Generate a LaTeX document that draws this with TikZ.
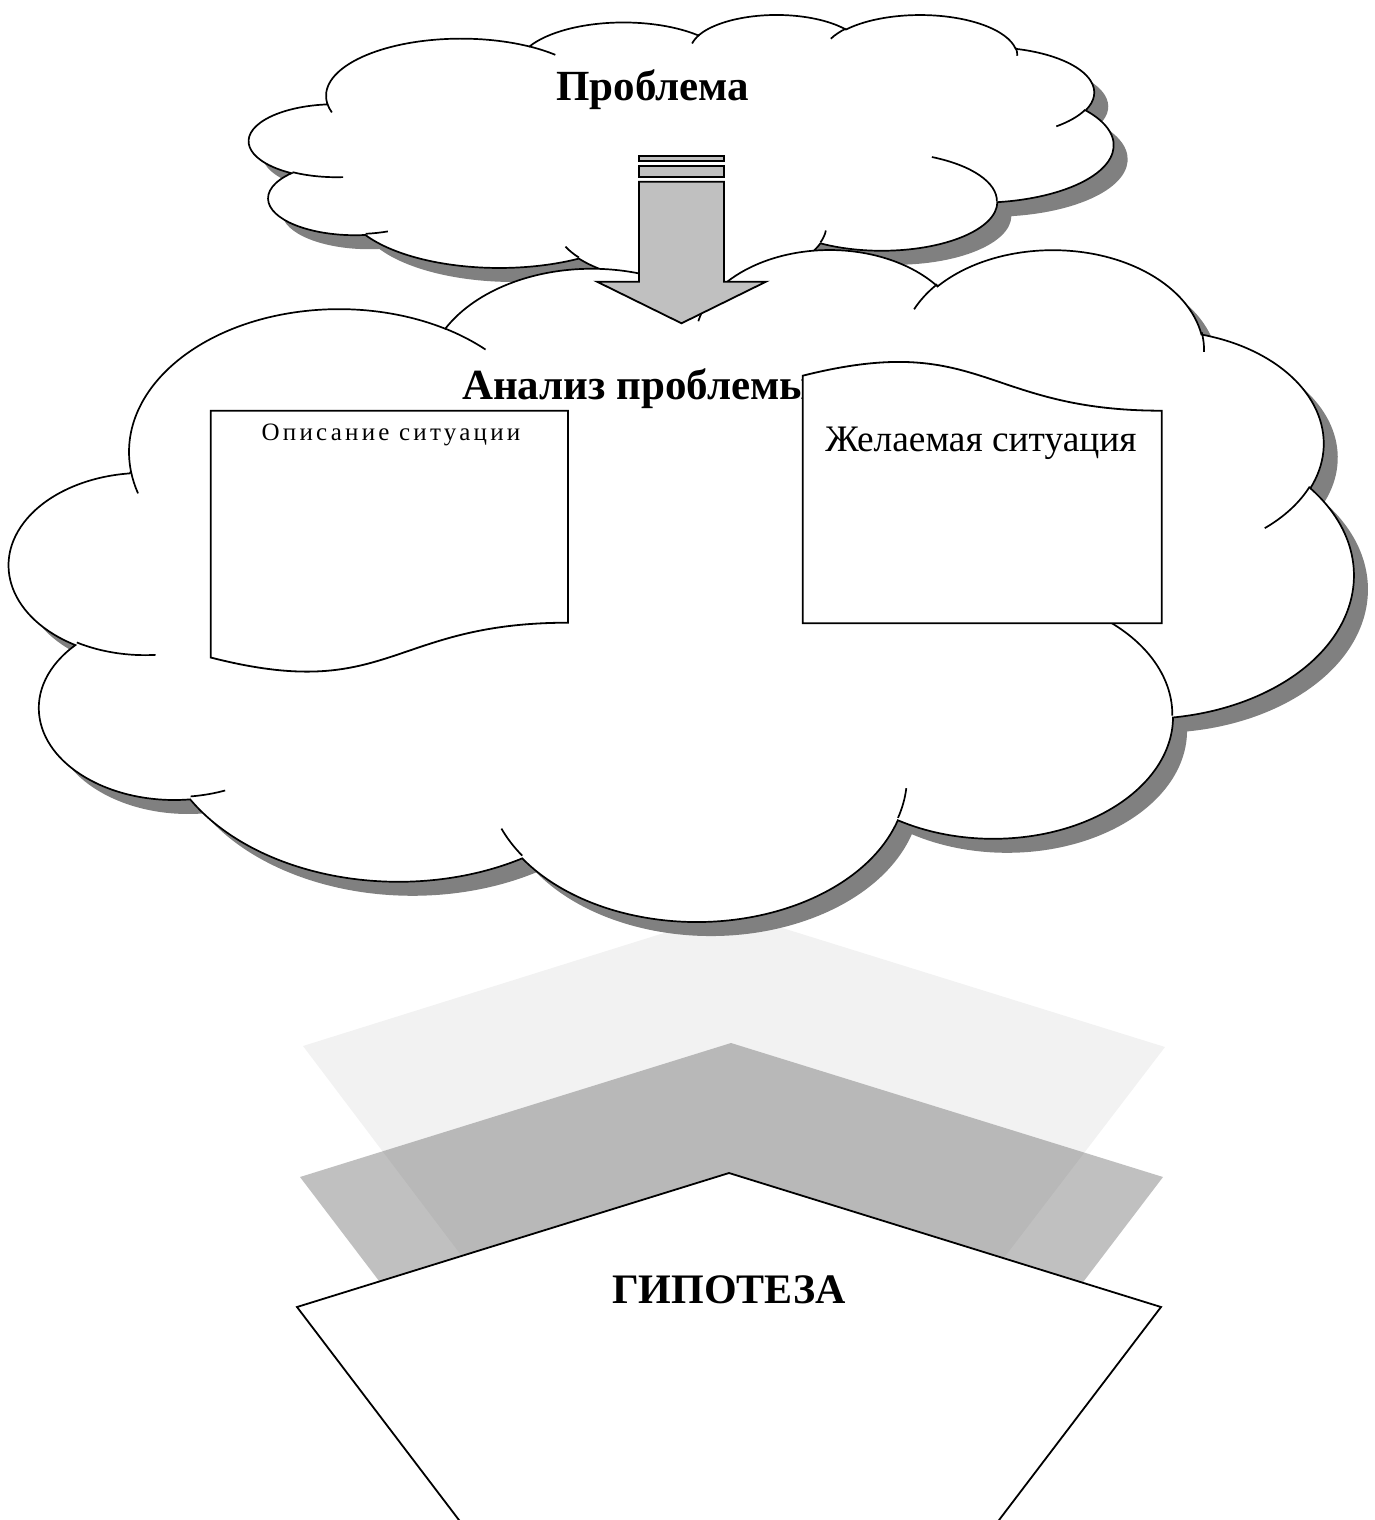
\documentclass[tikz,border=0pt]{standalone}
\usepackage{fontspec}
\setmainfont{Liberation Serif}
\newfontfamily\spacedserif[LetterSpace=13]{Liberation Serif}
\definecolor{cloudshadow}{HTML}{808080}
\definecolor{arrowfill}{HTML}{C0C0C0}
\definecolor{lightchev}{HTML}{F2F2F2}

% ---------- cloud (DrawingML preset geometry, 43200 units given in thousands) ----------
\newcommand\cldsetup[4]{%
  \pgfmathsetmacro\cldXo{#1}\pgfmathsetmacro\cldYo{#2}%
  \pgfmathsetmacro\cldSx{(#3)/43.2}\pgfmathsetmacro\cldSy{(#4)/43.2}}
\newcommand\cldpt[2]{\pgfpoint{(\cldXo+(#1)*\cldSx)*0.5pt}{-(\cldYo+(#2)*\cldSy)*0.5pt}}
\newcommand\cldarc[4]{%
  \pgfmathsetmacro\cldA{atan2((#1)*sin(-(#3)),(#2)*cos(-(#3)))}%
  \pgfmathsetmacro\cldB{atan2((#1)*sin(-(#3)-(#4)),(#2)*cos(-(#3)-(#4)))}%
  \pgfmathsetmacro\cldD{\cldB-\cldA}%
  \pgfmathsetmacro\cldD{\cldD-360*((#4)>0)*(\cldD>0)+360*((#4)<0)*(\cldD<0)}%
  \pgfmathsetmacro\cldE{\cldA+\cldD}%
  \pgfmathsetmacro\cldRx{(#1)*\cldSx*0.5}%
  \pgfmathsetmacro\cldRy{(#2)*\cldSy*0.5}%
  \pgfpatharc{\cldA}{\cldE}{\cldRx pt and \cldRy pt}}
\newcommand\cloudoutline{%
  \pgfpathmoveto{\cldpt{3.900}{14.370}}%
  \cldarc{6.753}{9.190}{-190.48748}{123.78053}%
  \cldarc{5.333}{7.267}{-144.10238}{89.94523}%
  \cldarc{4.365}{5.945}{-145.80792}{99.72302}%
  \cldarc{4.857}{6.595}{-130.98607}{117.24173}%
  \cldarc{5.333}{7.273}{-78.70888}{109.02692}%
  \cldarc{6.775}{9.220}{-46.26725}{130.269}%
  \cldarc{5.785}{7.867}{0.62502}{114.03333}%
  \cldarc{6.752}{9.215}{22.4516}{115.17255}%
  \cldarc{7.720}{10.543}{66.24263}{75.71102}%
  \cldarc{4.360}{5.918}{-274.94208}{146.73557}%
  \cldarc{4.345}{5.945}{-246.8285}{152.51885}%
  \pgfpathclose}
\newcommand\cloudinner{%
  \pgfpathmoveto{\cldpt{4.693}{26.177}}\cldarc{4.345}{5.945}{86.742}{26.4295}%
  \pgfpathmoveto{\cldpt{6.928}{34.899}}\cldarc{4.360}{5.918}{73.61047}{11.44747}%
  \pgfpathmoveto{\cldpt{16.478}{39.090}}\cldarc{6.752}{9.215}{137.62415}{14.0811}%
  \pgfpathmoveto{\cldpt{28.827}{34.751}}\cldarc{6.752}{9.215}{6.45327}{15.99835}%
  \pgfpathmoveto{\cldpt{34.129}{22.954}}\cldarc{5.785}{7.867}{-70.29235}{70.91737}%
  \pgfpathmoveto{\cldpt{41.798}{15.354}}\cldarc{5.333}{7.273}{30.31803}{27.7515}%
  \pgfpathmoveto{\cldpt{38.324}{5.426}}\cldarc{4.857}{6.595}{-13.74433}{14.8589}%
  \pgfpathmoveto{\cldpt{29.078}{3.952}}\cldarc{4.857}{6.595}{-149.18145}{18.19537}%
  \pgfpathmoveto{\cldpt{22.141}{4.720}}\cldarc{4.365}{5.945}{-163.49427}{17.68635}%
  \pgfpathmoveto{\cldpt{14.000}{5.192}}\cldarc{6.753}{9.190}{-66.70695}{12.31935}%
  \pgfpathmoveto{\cldpt{4.127}{15.789}}\cldarc{6.753}{9.190}{157.65435}{11.85817}}
\newcommand\drawcloud[4]{%
  \begin{pgfscope}
    \cldsetup{#1+14}{#2+14}{#3}{#4}%
    \cloudoutline
    \pgfsetfillcolor{cloudshadow}%
    \pgfusepath{fill}%
  \end{pgfscope}
  \begin{pgfscope}
    \cldsetup{#1}{#2}{#3}{#4}%
    \pgfsetlinewidth{0.85pt}%
    \pgfsetfillcolor{white}\pgfsetstrokecolor{black}%
    \cloudoutline
    \pgfusepath{fill,stroke}%
    \cloudinner
    \pgfusepath{stroke}%
  \end{pgfscope}}

\tikzset{
  outline/.style={draw=black, line width=0.9pt, line join=miter},
  docshape/.style={outline, fill=white},
  arrowpart/.style={outline, fill=arrowfill, line width=0.9pt},
  bigtitle/.style={inner sep=0pt, font=\bfseries\fontsize{21}{24}\selectfont},
}

\begin{document}
\begin{tikzpicture}[x=0.5pt, y=-0.5pt]
\useasboundingbox (0,0) rectangle (1375,1520);

% ---------- chevrons ----------
\fill[lightchev] (731,912) -- (1165,1047) -- (1000,1263) -- (467,1263) -- (303,1046) -- cycle;
\fill[black!64, fill opacity=0.385] (731,1043) -- (1163,1177) -- (998,1394) -- (465,1394) -- (300,1177) -- cycle;
\draw[outline, fill=white] (729,1173) -- (1161,1307) -- (996,1524) -- (462,1524) -- (297,1307) -- cycle;
\node[bigtitle, anchor=base] (hyp) at (729,1303) {ГИПОТЕЗА};

% ---------- clouds ----------
\drawcloud{249.3}{14.1}{864}{269}
\drawcloud{9.65}{247.85}{1343.7}{671.7}

% ---------- arrow ----------
\draw[arrowpart] (639,155.7) rectangle (724,161);
\draw[arrowpart] (639,166) rectangle (724,176.7);
\draw[arrowpart] (639,181.7) -- (724,181.7) -- (724,281.7) -- (766,281.7)
  -- (681.5,323.3) -- (597,281.7) -- (639,281.7) -- cycle;

% ---------- titles ----------
\node[bigtitle, anchor=base, font=\bfseries\fontsize{21.5}{24}\selectfont] (prob) at (652.7,100.7) {Проблема};
\node[bigtitle, anchor=base west, font=\bfseries\fontsize{21.5}{24}\selectfont] (anal) at (461.7,399.3) {Анализ проблемы};

% ---------- documents ----------
\draw[docshape] (210.7,410.7) -- (568,410.7) -- (568,622.7)
  .. controls (389.4,622.7) and (389.4,703.4) .. (210.7,657.5) -- cycle;
\node[inner sep=0pt, anchor=base, font=\spacedserif\fontsize{12.5}{14}\selectfont] (desc) at (391,440) {Описание ситуации};

\draw[docshape] (802.7,623.3) -- (1161.7,623.3) -- (1161.7,410.7)
  .. controls (982.2,410.7) and (982.2,330.6) .. (802.7,375.7) -- cycle;
\node[inner sep=0pt, anchor=base, font=\fontsize{18.7}{22}\selectfont] (want) at (981,451.7) {Желаемая ситуация};
\end{tikzpicture}
\end{document}
